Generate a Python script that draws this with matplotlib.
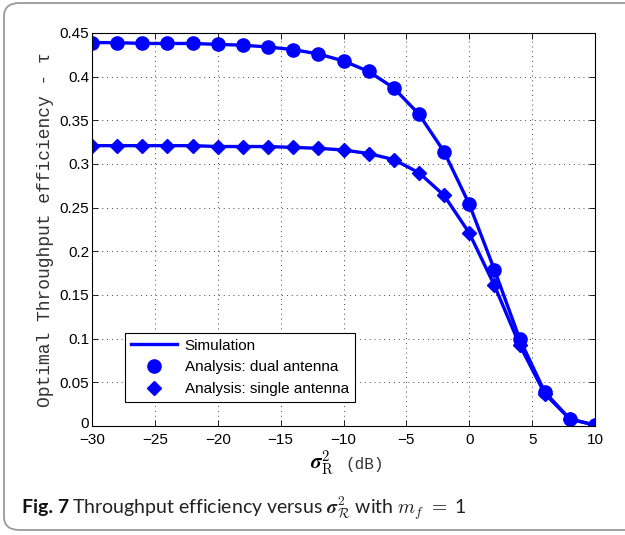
import numpy as np
import matplotlib
matplotlib.use("Agg")
import matplotlib.pyplot as plt
import matplotlib.transforms as mtransforms
from matplotlib.patches import FancyBboxPatch

# noise variance sigma_R^2 in dB
sigma_db = [-30, -28, -26, -24, -22, -20, -18, -16, -14, -12, -10,
            -8, -6, -4, -2, 0, 2, 4, 6, 8, 10]

# optimal throughput efficiency, dual antenna
tau_dual = [0.439, 0.439, 0.438, 0.438, 0.438, 0.437, 0.436, 0.434, 0.431, 0.426, 0.418,
            0.406, 0.387, 0.357, 0.314, 0.254, 0.179, 0.100, 0.039, 0.008, 0.001]

# optimal throughput efficiency, single antenna
tau_single = [0.321, 0.321, 0.321, 0.321, 0.321, 0.320, 0.320, 0.320, 0.319, 0.318, 0.316,
              0.312, 0.305, 0.290, 0.264, 0.221, 0.161, 0.093, 0.037, 0.008, 0.001]

legend_labels = ['Simulation', 'Analysis: dual antenna', 'Analysis: single antenna']

blue = (0, 0, 1)

fig = plt.figure(figsize=(6.25, 5.35), dpi=100)

# rounded frame around figure + caption
frame = FancyBboxPatch((4 / 625, 5 / 535), 640 / 625, 527 / 535,
                       boxstyle="round,pad=0,rounding_size=0.025",
                       transform=fig.transFigure, facecolor='none',
                       edgecolor='#9a9a9a', linewidth=1.3, clip_on=False)
fig.patches.append(frame)

ax = fig.add_axes([92 / 625, 1 - 426 / 535, 503 / 625, 393 / 535])

# simulation curves (lines) and analysis markers
ax.plot(sigma_db, tau_dual, '-', color=blue, lw=2.4)
ax.plot(sigma_db, tau_single, '-', color=blue, lw=2.4)
ax.plot(sigma_db, tau_dual, 'o', color=blue, ms=9.5)
ax.plot(sigma_db, tau_single, 'D', color=blue, ms=7.5)

ax.set_xlim(-30, 10)
ax.set_ylim(0, 0.45)
ax.set_xticks(np.arange(-30, 11, 5))
ax.set_yticks(np.arange(0, 0.451, 0.05))
ax.set_xticklabels(['\u221230', '\u221225', '\u221220', '\u221215', '\u221210', '\u22125', '0', '5', '10'])
ax.set_yticklabels(['0', '0.05', '0.1', '0.15', '0.2', '0.25', '0.3', '0.35', '0.4', '0.45'])
for lab in ax.get_xticklabels() + ax.get_yticklabels():
    lab.set_family('Liberation Sans')
    lab.set_fontsize(11)
ax.tick_params(direction='in', top=True, right=True, length=4, width=0.6)
ax.tick_params(axis='y', pad=2)
ax.tick_params(axis='x', pad=5)
ax.grid(True, linestyle=(0, (1, 4)), color='#444444', linewidth=0.7)
for s in ax.spines.values():
    s.set_linewidth(0.8)

# nudge the "0" y label up a bit so it clears the -30 label
lab0 = ax.get_yticklabels()[0]
lab0.set_transform(lab0.get_transform() + mtransforms.ScaledTranslation(0, 3 / 100, fig.dpi_scale_trans))

ax.set_ylabel('Optimal Throughput efficiency - \u03c4', family='Liberation Mono',
              fontsize=13, color='#333333', labelpad=4)

# x label: bold sigma with sub/superscript, then (dB) in mono
fig.text(322 / 625, 1 - 463 / 535, r'$\boldsymbol{\sigma}^{2}_{\mathrm{R}}$', fontsize=15,
         ha='center', va='center', math_fontfamily='cm')
fig.text(345 / 625, 1 - 465 / 535, '(dB)', family='Liberation Mono', fontsize=11.5,
         ha='left', va='center', color='#333333')

# legend built from proxy artists
h1, = ax.plot([], [], '-', color=blue, lw=2.4)
h2, = ax.plot([], [], 'o', color=blue, ms=9.5)
h3, = ax.plot([], [], 'D', color=blue, ms=7.5)
leg = ax.legend([h1, h2, h3], legend_labels, loc='lower left',
                bbox_to_anchor=(0.066, 0.061), fancybox=False, framealpha=1,
                edgecolor='black', prop={'family': 'Liberation Sans', 'size': 11},
                handlelength=3.0, borderpad=0.4, labelspacing=0.5, handletextpad=0.5,
                borderaxespad=0)
leg.get_frame().set_linewidth(0.8)

# caption
fig.text(22 / 625, 1 - 508 / 535, 'Fig. 7', family='Lato', fontweight='bold',
         fontsize=14, ha='left', va='center', color='#111111')
fig.text(72 / 625, 1 - 508 / 535,
         r'Throughput efficiency versus $\boldsymbol{\sigma}^{2}_{\mathcal{R}}$ with $m_f$ $=$ 1',
         family='Lato', fontsize=14, ha='left', va='center', color='#222222',
         math_fontfamily='cm')

fig.savefig('out.png', dpi=100)
